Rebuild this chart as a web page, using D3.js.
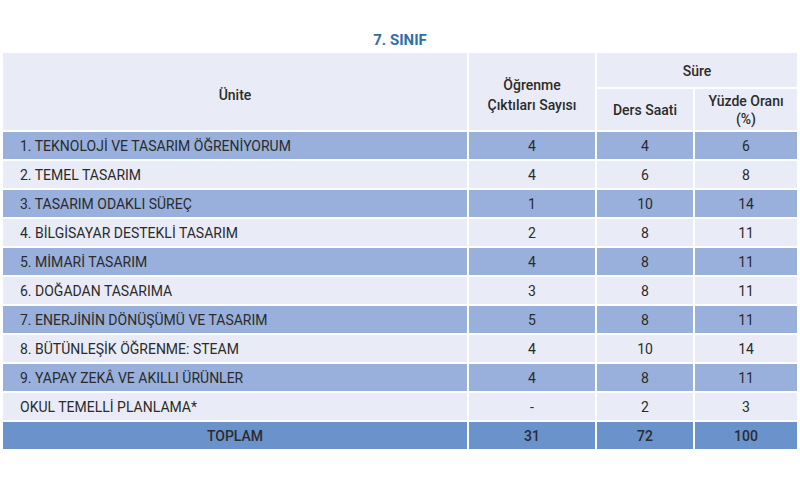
<!DOCTYPE html><html><head><meta charset="utf-8"><script src="https://cdn.jsdelivr.net/npm/d3@7"></script>
<style>body{margin:0;background:#fff}text{font-family:Roboto,sans-serif;fill:#2b2b2b}</style></head><body><svg id="c" width="800" height="500"></svg>
<script>
const units=["1. TEKNOLOJİ VE TASARIM ÖĞRENİYORUM","2. TEMEL TASARIM","3. TASARIM ODAKLI SÜREÇ","4. BİLGİSAYAR DESTEKLİ TASARIM","5. MİMARİ TASARIM","6. DOĞADAN TASARIMA","7. ENERJİNİN DÖNÜŞÜMÜ VE TASARIM","8. BÜTÜNLEŞİK ÖĞRENME: STEAM","9. YAPAY ZEKÂ VE AKILLI ÜRÜNLER","OKUL TEMELLİ PLANLAMA*"];
const outcomes=["4","4","1","2","4","3","5","4","4","-"];
const hours=["4","6","10","8","8","8","8","10","8","2"];
const percents=["6","8","14","11","11","11","11","14","11","3"];
const totals=["TOPLAM","31","72","100"];
const svg=d3.select("#c");
const cols=[2,468,596,694,798];
const y=d3.scaleBand().domain(d3.range(11)).range([131,450]).paddingInner(0);
svg.append("text").attr("x",400).attr("y",45).attr("text-anchor","middle").style("fill","#2f6fa8").style("font-weight","700").style("font-size","15px").text("7. SINIF");
// header
const hb="#e9ebf6";
const hdr=[[cols[0],52,cols[1],131],[cols[1],52,cols[2],131],[cols[2],52,cols[4],88],[cols[2],88,cols[3],131],[cols[3],88,cols[4],131]];
hdr.forEach(h=>svg.append("rect").attr("x",h[0]).attr("y",h[1]).attr("width",h[2]-h[0]).attr("height",h[3]-h[1]).attr("fill",hb).attr("stroke","#fff").attr("stroke-width",2));
const ht=(x,yy,t)=>svg.append("text").attr("x",x).attr("y",yy).attr("text-anchor","middle").style("font-size","14px").style("font-weight","500").text(t);
ht((cols[0]+cols[1])/2,100,"Ünite");
ht((cols[1]+cols[2])/2,90,"Öğrenme");ht((cols[1]+cols[2])/2,110,"Çıktıları Sayısı");
ht((cols[2]+cols[4])/2,76,"Süre");
ht((cols[2]+cols[3])/2,115,"Ders Saati");
ht((cols[3]+cols[4])/2,106,"Yüzde Oranı");ht((cols[3]+cols[4])/2,124,"(%)");
const rows=units.map((u,i)=>[u,outcomes[i],hours[i],percents[i]]);
rows.push(totals);
rows.forEach((r,i)=>{
  const fill=i===10?"#6b93cb":(i%2===0?"#98b0db":"#e9ecf7");
  r.forEach((v,j)=>{
    svg.append("rect").attr("x",cols[j]).attr("y",y(i)).attr("width",cols[j+1]-cols[j]).attr("height",y.bandwidth()).attr("fill",fill).attr("stroke","#fff").attr("stroke-width",2);
    const left=(j===0&&i<10);
    svg.append("text").attr("x",left?cols[0]+18:(cols[j]+cols[j+1])/2).attr("y",y(i)+y.bandwidth()/2+5)
      .attr("text-anchor",left?"start":"middle").style("font-size","14px").style("font-weight",i===10?"500":"400").text(v);
  });
});
</script></body></html>
